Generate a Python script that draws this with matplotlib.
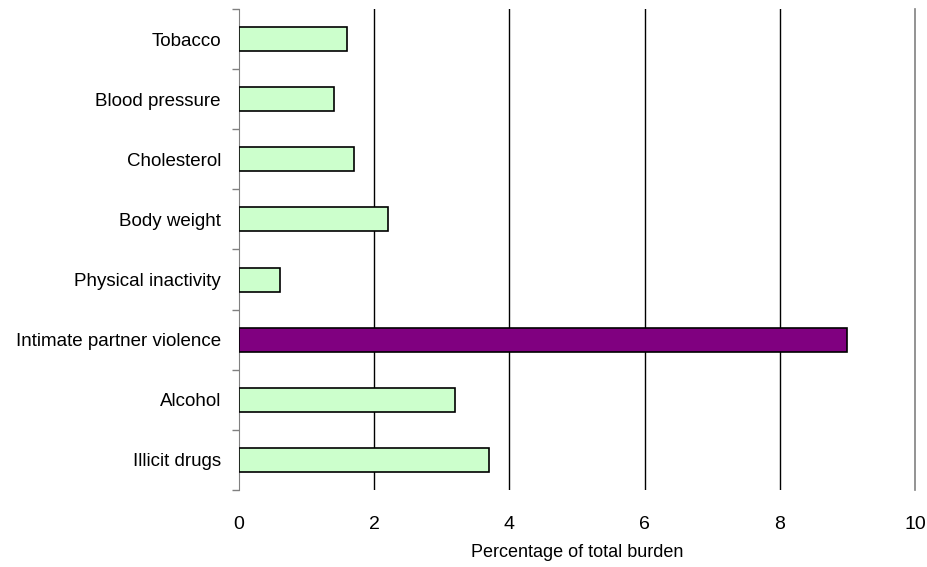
import matplotlib
matplotlib.use('Agg')
import matplotlib.pyplot as plt
import numpy as np

plt.rcParams['font.family'] = ['Liberation Sans', 'DejaVu Sans']

categories = ['Tobacco', 'Blood pressure', 'Cholesterol', 'Body weight',
              'Physical inactivity', 'Intimate partner violence', 'Alcohol',
              'Illicit drugs']
values = [1.6, 1.4, 1.7, 2.2, 0.6, 9.0, 3.2, 3.7]
colors = ['#ccffcc'] * 8
colors[5] = '#800080'

fig = plt.figure(figsize=(9.28, 5.67), dpi=100)
ax = fig.add_axes([0.2575, 0.136, 0.7285, 0.848])

y = np.arange(len(categories))
ax.barh(y, values, height=0.4, color=colors, edgecolor='black', linewidth=1.2, zorder=3)

ax.set_xlim(0, 10)
ax.set_ylim(len(categories) - 0.5, -0.5)

for xv in [2, 4, 6, 8]:
    ax.axvline(xv, color='black', linewidth=1, zorder=1)
ax.axvline(10, color='#808080', linewidth=1.2, zorder=1, clip_on=False)

ax.set_xticks([0, 2, 4, 6, 8, 10])
ax.tick_params(axis='x', length=0, pad=19, labelsize=14)

ax.set_yticks(y)
ax.set_yticklabels(categories, fontsize=13.5)
ax.set_yticks(np.arange(-0.5, len(categories)), minor=True)
ax.tick_params(axis='y', which='major', length=0, pad=13)
ax.tick_params(axis='y', which='minor', length=5, color='#808080', width=1)

for s in ['top', 'right', 'bottom']:
    ax.spines[s].set_visible(False)
ax.spines['left'].set_color('#808080')

ax.set_xlabel('Percentage of total burden', fontsize=13, labelpad=8)

fig.savefig('out.png', dpi=100)
